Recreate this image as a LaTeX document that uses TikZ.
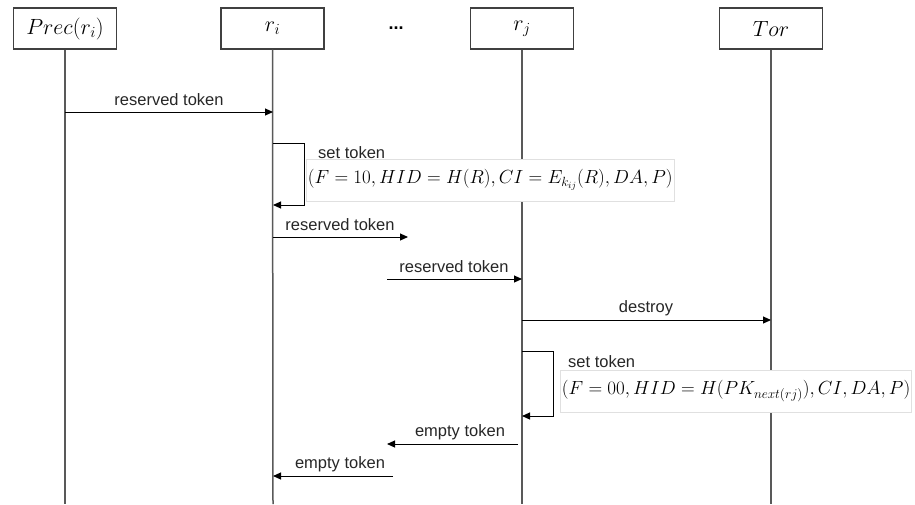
\RequirePackage{fix-cm}
\documentclass[tikz,border=0pt]{standalone}
\usepackage{fontspec}
\setmainfont{Liberation Sans}
\usepackage{amsmath}
\usetikzlibrary{arrows.meta}
\begin{document}
\begin{tikzpicture}[x=1pt,y=-1pt,
  actor/.style={draw=black!75,line width=1.2pt,minimum width=103pt,minimum height=41pt,inner sep=0pt,font=\fontsize{22}{24}\selectfont},
  life/.style={draw=black!65,line width=1.5pt},
  msg/.style={draw=black,line width=1pt,-{Triangle[length=8pt,width=7pt]}},
  lbl/.style={font=\fontsize{16.5}{19}\selectfont,text=black!85,inner sep=0pt},
  formula/.style={draw=black!12,fill=white,line width=0.8pt,inner sep=1.5pt,minimum height=42pt,font=\fontsize{19}{22}\selectfont,anchor=west}]
\useasboundingbox (0,0) rectangle (915,504);
% actors
\node[actor] (prec) at (65,28.5) {$Prec(r_i)$};
\node[actor] (ri) at (272.5,28.5) {$r_i$};
\node[font=\bfseries\fontsize{18}{20}\selectfont] (dots) at (396,28) {...};
\node[actor] (rj) at (522,28.5) {$r_j$};
\node[actor] (tor) at (771,28.5) {$Tor$};
% lifeline ends
\coordinate (precE) at (65,504);
\coordinate (riE) at (273,504);
\coordinate (rjE) at (522,504);
\coordinate (torE) at (771,504);
\draw[life] (prec.south) -- (precE);
\draw[life] (ri.south) -- (riE);
\draw[life] (rj.south) -- (rjE);
\draw[life] (tor.south) -- (torE);
% message endpoints
\coordinate (a1) at (65,112); \coordinate (b1) at (273,112);
\coordinate (s1a) at (273,143); \coordinate (s1b) at (304,143); \coordinate (s1c) at (304,205); \coordinate (s1d) at (273,205);
\coordinate (a3) at (273,237); \coordinate (b3) at (408,237);
\coordinate (a4) at (387,279); \coordinate (b4) at (522,279);
\coordinate (a5) at (522,320); \coordinate (b5) at (771,320);
\coordinate (s2a) at (522,351); \coordinate (s2b) at (553,351); \coordinate (s2c) at (553,416); \coordinate (s2d) at (522,416);
\coordinate (a7) at (518,444); \coordinate (b7) at (387,444);
\coordinate (a8) at (393,476); \coordinate (b8) at (273,476);
% messages
\draw[msg] (a1) -- (b1);
\node[lbl] (l1) at (169,100) {reserved token};
\draw[msg] (s1a) -- (s1b) -- (s1c) -- (s1d);
\node[lbl,anchor=west] (l2) at (318,153) {set token};
\node[formula] (f1) at (306,180) {$(F=10,HID=H(R),CI=E_{k_{ij}}(R),DA,P)$};
\draw[msg] (a3) -- (b3);
\node[lbl] (l3) at (340,225) {reserved token};
\draw[msg] (a4) -- (b4);
\node[lbl] (l4) at (454,267) {reserved token};
\draw[msg] (a5) -- (b5);
\node[lbl] (l5) at (646,308) {destroy};
\draw[msg] (s2a) -- (s2b) -- (s2c) -- (s2d);
\node[lbl,anchor=west] (l6) at (568,362) {set token};
\node[formula] (f2) at (560,391) {$(F=00,HID=H(PK_{next(rj)}),CI,DA,P)$};
\draw[msg] (a7) -- (b7);
\node[lbl] (l7) at (460,432) {empty token};
\draw[msg] (a8) -- (b8);
\node[lbl] (l8) at (340,464) {empty token};
\end{tikzpicture}
\end{document}
